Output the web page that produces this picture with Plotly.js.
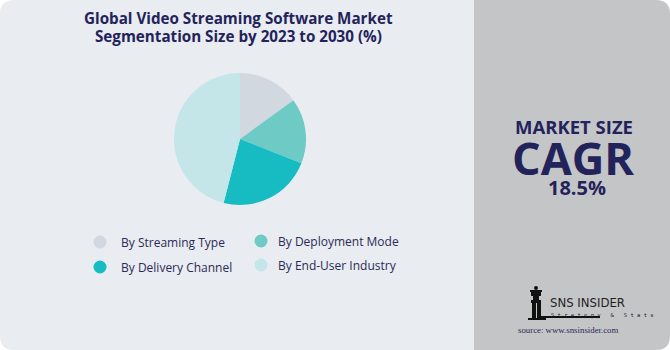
<!DOCTYPE html>
<html><head><meta charset="utf-8">
<script src="https://cdn.plot.ly/plotly-3.0.1.min.js"></script>
<style>html,body{margin:0;padding:0;background:#fff}#chart{width:670px;height:350px}</style>
</head><body><div id="chart"></div>
<script>
const categories = ["By Streaming Type", "By Deployment Mode", "By Delivery Channel", "By End-User Industry"];
const values = [15, 16, 23, 46];
const colors = ["#d1d8df", "#6ecac5", "#17bcc3", "#c4e6e9"];
const titleLines = ["Global Video Streaming Software Market", "Segmentation Size by 2023 to 2030 (%)"];
const cagrLabel = "MARKET SIZE";
const cagrWord = "CAGR";
const cagrValue = "18.5%";
const brand = "SNS INSIDER";
const brandSub = "Strategy & Stats";
const source = "source: www.snsinsider.com";

const W = 670, H = 350;
const px = x => x / W, py = y => 1 - y / H;
const navy = "#23235b";
const font = "Open Sans, Lato, sans-serif";

function pPath(x0,y0,x1,y1,r){
  const X = x => (x/W).toFixed(5), Y = y => (1-y/H).toFixed(5);
  return `M${X(x0+r)},${Y(y0)} L${X(x1-r)},${Y(y0)} Q${X(x1)},${Y(y0)} ${X(x1)},${Y(y0+r)} L${X(x1)},${Y(y1-r)} Q${X(x1)},${Y(y1)} ${X(x1-r)},${Y(y1)} L${X(x0+r)},${Y(y1)} Q${X(x0)},${Y(y1)} ${X(x0)},${Y(y1-r)} L${X(x0)},${Y(y0+r)} Q${X(x0)},${Y(y0)} ${X(x0+r)},${Y(y0)} Z`;
}
const shapes = [];
shapes.push({type:"path", xref:"paper", yref:"paper", layer:"below", line:{width:0}, fillcolor:"#e9ecf1", path:pPath(0,0,490,350,14)});
shapes.push({type:"path", xref:"paper", yref:"paper", layer:"below", line:{width:0}, fillcolor:"#c4c5c7", path:pPath(474,0,670,350,14)});
shapes.push({type:"rect", xref:"paper", yref:"paper", layer:"below", line:{width:0}, fillcolor:"#c4c5c7", x0:px(474), x1:px(490), y0:0, y1:1});

const annotations = [];
titleLines.forEach((t,i)=>annotations.push({text:"<b>"+t+"</b>", x:px(238), y:py(18+18*i), xref:"paper", yref:"paper", showarrow:false, xanchor:"center", yanchor:"middle", font:{family:font, size:15.2, color:navy}}));

const legPos = [[100,242,119],[261,241,276],[100,267,119],[261,265,276]];
categories.forEach((c,i)=>{
  const [cx,cy,tx] = legPos[i];
  shapes.push({type:"circle", xref:"paper", yref:"paper", line:{width:0}, fillcolor:colors[i], x0:px(cx-6.5), x1:px(cx+6.5), y0:py(cy+6.5), y1:py(cy-6.5)});
  annotations.push({text:c, x:px(tx), y:py(cy), xref:"paper", yref:"paper", showarrow:false, xanchor:"left", yanchor:"middle", font:{family:font, size:12, color:"#2a2a55"}});
});

annotations.push({text:"<b>"+cagrLabel+"</b>", x:px(574), y:py(126), xref:"paper", yref:"paper", showarrow:false, xanchor:"center", yanchor:"middle", height:18, font:{family:font, size:18.5, color:navy}});
annotations.push({text:"<b>"+cagrWord+"</b>", x:px(573), y:py(157), xref:"paper", yref:"paper", showarrow:false, xanchor:"center", yanchor:"middle", height:36, font:{family:font, size:45, color:navy}});
annotations.push({text:"<b>"+cagrValue+"</b>", x:px(577), y:py(187), xref:"paper", yref:"paper", showarrow:false, xanchor:"center", yanchor:"middle", height:18, font:{family:font, size:20, color:navy}});
annotations.push({text:brand, x:px(548), y:py(302), xref:"paper", yref:"paper", showarrow:false, xanchor:"left", yanchor:"middle", font:{family:"DejaVu Sans Condensed, Liberation Sans Narrow, sans-serif", size:13, color:"#1e1e1e"}});
annotations.push({text:brandSub.split("").join(" "), x:px(549), y:py(315), xref:"paper", yref:"paper", showarrow:false, xanchor:"left", yanchor:"middle", font:{family:"DejaVu Sans Mono, monospace", size:5.5, color:"#1e1e1e"}});
annotations.push({text:source, x:px(568), y:py(330), xref:"paper", yref:"paper", showarrow:false, xanchor:"center", yanchor:"middle", font:{family:"Liberation Serif, DejaVu Serif, serif", size:8.8, color:"#2a2a55"}});

const ic = "#111";
[[530,290,542,292],[531,292,541,296],[533,296,539,300],[531,300,541,303],[532,303,536,318],[537,303,541,318],[528,318,546,320],[541,316,600,318]].forEach(r=>{
  shapes.push({type:"rect", xref:"paper", yref:"paper", line:{width:0}, fillcolor:ic, x0:px(r[0]), x1:px(r[2]), y0:py(r[3]), y1:py(r[1])});
});
shapes.push({type:"circle", xref:"paper", yref:"paper", line:{width:0}, fillcolor:ic, x0:px(534), x1:px(538), y0:py(290), y1:py(286)});

const data = [{
  type:"pie", labels:categories, values:values, marker:{colors:colors, line:{width:0}},
  sort:false, direction:"clockwise", rotation:0, textinfo:"none", hoverinfo:"label+percent",
  domain:{x:[px(174), px(306)], y:[py(205), py(73)]}, showlegend:false
}];
const layout = {
  width:W, height:H, margin:{l:0,r:0,t:0,b:0}, paper_bgcolor:"#ffffff", plot_bgcolor:"rgba(0,0,0,0)",
  showlegend:false, shapes:shapes, annotations:annotations
};
Plotly.newPlot("chart", data, layout, {displayModeBar:false, staticPlot:true});
</script></body></html>
